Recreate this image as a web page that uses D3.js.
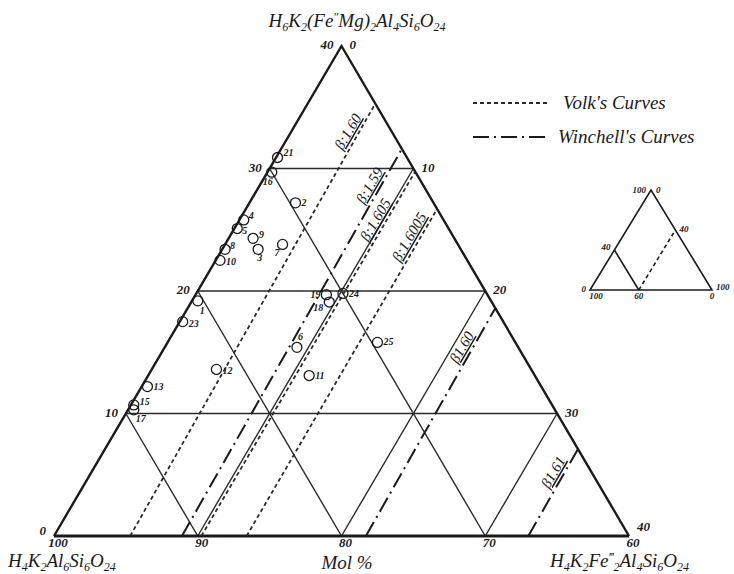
<!DOCTYPE html>
<head>
<meta charset="utf-8">
<script src="https://d3js.org/d3.v7.min.js"></script>
<style>
  body { margin: 0; background: #fff; }
  svg { font-family: "Liberation Serif", serif; font-style: italic; fill: #1a1a1a; }
  .frame { fill: none; stroke: #1a1a1a; stroke-width: 2.4px; stroke-linejoin: miter; }
  .base { stroke: #1a1a1a; stroke-width: 3px; }
  .grid line { stroke: #2a2a2a; stroke-width: 1.4px; }
  .volk { stroke: #2a2a2a; stroke-width: 1.8px; stroke-dasharray: 4 3; }
  .winchell { stroke: #1a1a1a; stroke-width: 2px; stroke-dasharray: 16 5 2 5; }
  .pts circle { fill: none; stroke: #1a1a1a; stroke-width: 1.3px; }
  .pts text { font-size: 10px; font-weight: bold; }
  .tick { font-size: 13px; font-weight: bold; }
  .beta { font-size: 15px; text-decoration: underline; }
  .formula { font-size: 19px; }
  .legend { font-size: 19px; }
  .inset line, .inset path { fill: none; stroke: #1a1a1a; stroke-width: 1.6px; }
  .inset text { font-size: 9px; font-weight: bold; }
</style>
</head>
<body>
<svg id="chart" width="734" height="574"></svg>
<script>

// mol % of the (Fe''Mg) end member (feMg) and of the Fe''' end member (fe3)
var sampleNo = ["21", "16", "2", "4", "5", "9", "8", "3", "10", "7", "1",
                "23", "12", "13", "15", "17", "19", "18", "24", "6", "11", "25"];
var feMg = [30.9, 29.7, 27.2, 25.8, 25.1, 24.3, 23.4, 23.4, 22.5, 23.8, 19.2,
            17.5, 13.6, 12.2, 10.7, 10.3, 19.7, 19.1, 19.8, 15.4, 13.1, 15.8];
var fe3 = [0.1, 0.3, 3.2, 0.3, 0.2, 1.7, 0.2, 2.5, 0.3, 4.0, 0.4,
           0.2, 4.5, 0.4, 0.2, 0.4, 9.1, 9.6, 10.2, 9.2, 11.2, 14.6];

var gridSteps = [10, 20, 30];
var sideValues = [0, 10, 20, 30, 40];
var leftTicks = ["0", "10", "20", "30", "40"];
var rightTicks = ["40", "30", "20", "10", "0"];
var baseTicks = ["100", "90", "80", "70", "60"];

// refractive index curves: Fe''' at the base (foot) and where they meet the right side (head)
var volkLabels = ["β:1.60", "β:1.605", "β:1.6005"];
var volkFoot = [5.3, 10.25, 13.4];
var volkHead = [4.7, 10.25, 13.3];
var winchellLabels = ["β:1.59", "β1.60", "β1.61"];
var winchellFoot = [8.9, 21.7, 33.0];
var winchellHead = [8.4, 21.4, 32.9];

// small key triangle (full 0-100 %)
var insetCut = 40;
var insetTicks = ["0", "40", "60", "100"];

var svg = d3.select("#chart");

var x = d3.scaleLinear().domain([0, 40]).range([54, 629]);
var y = d3.scaleLinear().domain([0, 40]).range([536, 46]);
function P(t, r) { return [x(r + t / 2), y(t)]; }

// grid
var grid = svg.append("g").attr("class", "grid");
gridSteps.forEach(function(v) {
  [[P(v, 0), P(v, 40 - v)], [P(0, v), P(40 - v, v)], [P(v, 0), P(0, v)]].forEach(function(s) {
    grid.append("line")
        .attr("x1", s[0][0]).attr("y1", s[0][1])
        .attr("x2", s[1][0]).attr("y2", s[1][1]);
  });
});

// frame
svg.append("path")
    .attr("class", "frame")
    .attr("d", d3.line()([P(0, 0), P(40, 0), P(0, 40)]));
svg.append("line")
    .attr("class", "base")
    .attr("x1", P(0, 0)[0]).attr("y1", P(0, 0)[1])
    .attr("x2", P(0, 40)[0]).attr("y2", P(0, 40)[1]);

// curves
var ang = Math.atan2(y(40) - y(0), x(20) - x(0)) * 180 / Math.PI;
var nx = Math.cos((ang - 90) * Math.PI / 180), ny = Math.sin((ang - 90) * Math.PI / 180);

function drawCurves(cls, foot, head, labels, labelT) {
  foot.forEach(function(f, i) {
    var h = head[i], tTop = 40 - h;
    var a = P(0, f), b = P(tTop, h);
    svg.append("line").attr("class", cls)
        .attr("x1", a[0]).attr("y1", a[1])
        .attr("x2", b[0]).attr("y2", b[1]);
    var t = labelT[i], r = f + (h - f) * t / tTop;
    var p = P(t, r);
    svg.append("text").attr("class", "beta")
        .attr("text-anchor", "middle")
        .attr("transform", "translate(" + (p[0] + nx * 5) + "," + (p[1] + ny * 5) + ") rotate(" + ang + ")")
        .text(labels[i]);
  });
}
drawCurves("volk", volkFoot, volkHead, volkLabels, [32.6, 25.4, 24.0]);
drawCurves("winchell", winchellFoot, winchellHead, winchellLabels, [28.2, 15.0, 4.8]);

// tick labels
svg.selectAll(".lt").data(sideValues).enter().append("text")
    .attr("class", "tick").attr("text-anchor", "end")
    .attr("x", function(d) { return P(d, 0)[0] - 8; })
    .attr("y", function(d) { return P(d, 0)[1] + (d == 0 ? -1 : 3); })
    .text(function(d, i) { return leftTicks[i]; });
svg.selectAll(".rt").data(sideValues).enter().append("text")
    .attr("class", "tick")
    .attr("x", function(d) { return P(d, 40 - d)[0] + 8; })
    .attr("y", function(d) { return P(d, 40 - d)[1] + (d == 0 ? -5 : 3); })
    .text(function(d, i) { return rightTicks[i]; });
svg.selectAll(".bt").data(sideValues).enter().append("text")
    .attr("class", "tick").attr("text-anchor", "middle")
    .attr("x", function(d) { return P(0, d)[0] + 4; })
    .attr("y", 547)
    .text(function(d, i) { return baseTicks[i]; });

// samples
var offs = {
  "21": [6, -1, "start"], "16": [-9, 13, "start"], "2": [6, 3, "start"], "4": [5, -1, "start"],
  "5": [5, 5, "start"], "9": [6, 0, "start"], "8": [5, 0, "start"], "3": [-1, 12, "start"],
  "10": [6, 5, "start"], "7": [-8, 12, "start"], "1": [2, 13, "start"], "23": [6, 5, "start"],
  "12": [6, 5, "start"], "13": [6, 3, "start"], "15": [6, 0, "start"], "17": [2, 12, "start"],
  "19": [-6, 3, "end"], "18": [-6, 9, "end"], "24": [6, 4, "start"], "6": [1, -7, "start"],
  "11": [6, 3, "start"], "25": [6, 3, "start"]
};
var pts = svg.append("g").attr("class", "pts");
sampleNo.forEach(function(n, i) {
  var p = P(feMg[i], fe3[i]);
  pts.append("circle").attr("cx", p[0]).attr("cy", p[1]).attr("r", 5);
  pts.append("text")
      .attr("x", p[0] + offs[n][0]).attr("y", p[1] + offs[n][1])
      .attr("text-anchor", offs[n][2])
      .text(n);
});

// chemical formulas with sub/superscripts
function formula(xp, yp, anchor, s) {
  var t = svg.append("text").attr("class", "formula")
      .attr("x", xp).attr("y", yp).attr("text-anchor", anchor);
  var re = /([_^])([^A-Z(_^]+)|([^_^]+?)(?=[_^]|$)/g, m, shift = 0;
  while ((m = re.exec(s)) !== null) {
    if (m[1]) {
      var d = m[1] == "_" ? 4 : -6;
      t.append("tspan").attr("dy", d - shift).attr("font-size", "12px").text(m[2]);
      shift = d;
    } else {
      t.append("tspan").attr("dy", -shift).text(m[3]);
      shift = 0;
    }
  }
}
formula(357, 27, "middle", "H_6K_2(Fe^″Mg)_2Al_4Si_6O_24");
formula(8, 567, "start", "H_4K_2Al_6Si_6O_24");
formula(550, 567, "start", "H_4K_2Fe^‴_2Al_4Si_6O_24");
svg.append("text").attr("class", "formula")
    .attr("x", 347).attr("y", 569).attr("font-size", "17px").attr("text-anchor", "middle")
    .text("Mol %");

// legend
svg.append("line").attr("class", "volk").attr("x1", 473).attr("x2", 548).attr("y1", 103).attr("y2", 103);
svg.append("text").attr("class", "legend").attr("x", 563).attr("y", 109).text("Volk's Curves");
svg.append("line").attr("class", "winchell").attr("x1", 473).attr("x2", 548).attr("y1", 137).attr("y2", 137);
svg.append("text").attr("class", "legend").attr("x", 558).attr("y", 143).text("Winchell's Curves");

// key triangle
var xi = d3.scaleLinear().domain([0, 100]).range([590, 712]);
var yi = d3.scaleLinear().domain([0, 100]).range([290, 190]);
function Q(t, r) { return [xi(r + t / 2), yi(t)]; }
var inset = svg.append("g").attr("class", "inset");
inset.append("path").attr("d", d3.line()([Q(0, 0), Q(100, 0), Q(0, 100)]) + "Z");
inset.append("path").attr("d", d3.line()([Q(insetCut, 0), Q(0, insetCut)]));
inset.append("path").attr("stroke-dasharray", "4 3")
    .attr("d", d3.line()([Q(0, insetCut), Q(100 - insetCut, insetCut)]));
var iLab = [
  [Q(100, 0), -5, 3, "end", insetTicks[3]], [Q(100, 0), 5, 3, "start", insetTicks[0]],
  [Q(0, 0), -4, 2, "end", insetTicks[0]], [Q(0, 0), 6, 9, "middle", insetTicks[3]],
  [Q(0, insetCut), 0, 9, "middle", insetTicks[2]],
  [Q(0, 100), 4, 0, "start", insetTicks[3]], [Q(0, 100), 0, 9, "middle", insetTicks[0]],
  [Q(insetCut, 0), -4, 0, "end", insetTicks[1]],
  [Q(100 - insetCut, insetCut), 4, 2, "start", insetTicks[1]]
];
iLab.forEach(function(l) {
  inset.append("text").attr("x", l[0][0] + l[1]).attr("y", l[0][1] + l[2])
      .attr("text-anchor", l[3]).text(l[4]);
});

</script>
</body>
</html>
